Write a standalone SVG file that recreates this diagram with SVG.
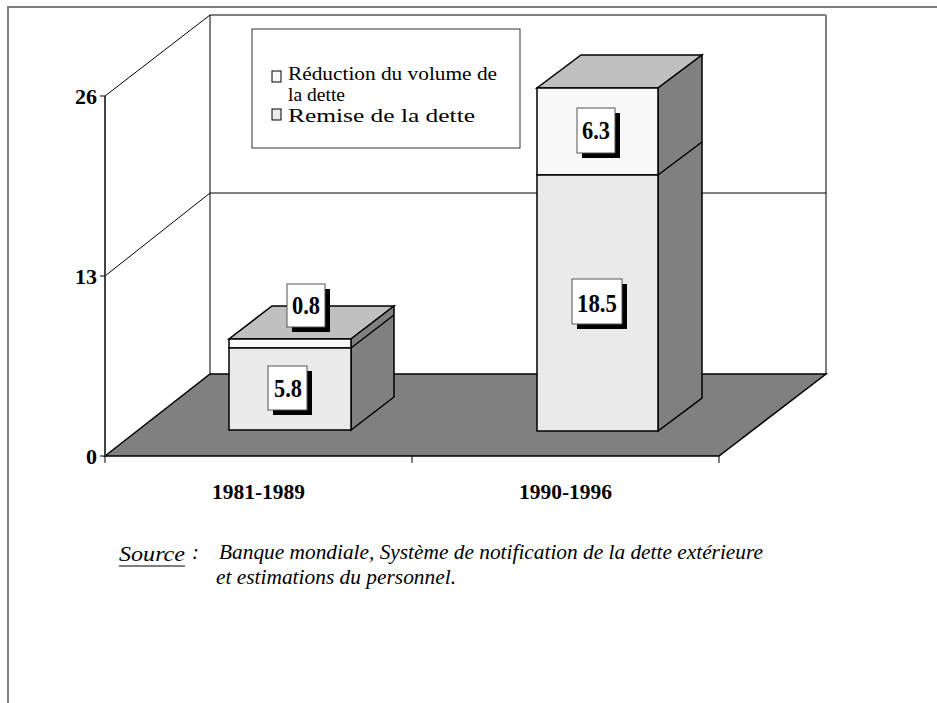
<svg xmlns="http://www.w3.org/2000/svg" width="937" height="703" viewBox="0 0 937 703">
<style>
.ax{stroke:#000;stroke-width:1;fill:none}
.lbl{font-family:"Liberation Serif","Times New Roman",serif;font-weight:bold;font-size:22px;fill:#000}
.dl{font-family:"Liberation Serif","Times New Roman",serif;font-weight:bold;font-size:25px;fill:#000}
.leg{font-family:"Liberation Serif","Times New Roman",serif;font-size:18px;fill:#000}
.src{font-family:"Liberation Serif","Times New Roman",serif;font-style:italic;font-size:21px;fill:#000}
.top{fill:#C0C0C0;stroke:#000;stroke-width:1.5}
.side{fill:#808080;stroke:#000;stroke-width:1.5}
.f1{fill:#EAEAEA;stroke:#000;stroke-width:1.5}
.f2{fill:#F8F8F8;stroke:#000;stroke-width:1.5}
.box{fill:#fff;stroke:#555;stroke-width:1}
</style>
<rect width="937" height="703" fill="#fff"/>
<path d="M8,703 V7 H937" fill="none" stroke="#808080" stroke-width="2"/>
<g id="walls">
<path d="M210,374 V15 H826" class="ax"/>
<line x1="826" y1="15" x2="826" y2="374" stroke="#808080" stroke-width="2"/>
<line x1="105" y1="96" x2="210" y2="15" class="ax"/>
<line x1="105" y1="276" x2="210" y2="193" class="ax"/>
<line x1="210" y1="193" x2="826" y2="193" class="ax"/>
<polygon points="105,456 210,374 826,374 719,456" fill="#808080" stroke="#000" stroke-width="1.5"/>
<line x1="105" y1="96" x2="105" y2="456" stroke="#444" stroke-width="2"/>
<path d="M100,96 H105 M100,276 H105 M100,456 H105 M105,456 V463 M412,456 V463 M719,456 V463" class="ax"/>
</g>
<g id="axis-labels">
<text class="lbl" x="97" y="104" text-anchor="end">26</text>
<text class="lbl" x="97" y="284" text-anchor="end">13</text>
<text class="lbl" x="97" y="464" text-anchor="end">0</text>
<text class="lbl" x="212" y="499" textLength="93" lengthAdjust="spacingAndGlyphs">1981-1989</text>
<text class="lbl" x="519" y="499" textLength="93" lengthAdjust="spacingAndGlyphs">1990-1996</text>
</g>
<g id="bar1">
<polygon class="top" points="229,339 351,339 394,306 272,306"/>
<polygon class="side" points="351,339 394,306 394,397 351,430"/>
<line x1="351" y1="348" x2="394" y2="315" stroke="#000" stroke-width="1.5"/>
<rect class="f2" x="229" y="339" width="122" height="9"/>
<rect class="f1" x="229" y="348" width="122" height="82"/>
</g>
<g id="bar2">
<polygon class="top" points="537,88 658,88 702,55 581,55"/>
<polygon class="side" points="658,88 702,55 702,398 658,431"/>
<line x1="658" y1="175" x2="702" y2="142" stroke="#000" stroke-width="1.5"/>
<rect class="f2" x="537" y="88" width="121" height="87"/>
<rect class="f1" x="537" y="175" width="121" height="256"/>
</g>
<g id="label-0.8">
<rect x="292" y="289" width="38" height="43" fill="#000"/>
<rect class="box" x="287" y="284" width="38" height="43"/>
<text class="dl" x="292" y="314" textLength="28" lengthAdjust="spacingAndGlyphs">0.8</text>
</g>
<g id="label-5.8">
<rect x="273" y="371" width="39" height="44" fill="#000"/>
<rect class="box" x="268" y="366" width="39" height="44"/>
<text class="dl" x="274" y="397" textLength="28" lengthAdjust="spacingAndGlyphs">5.8</text>
</g>
<g id="label-6.3">
<rect x="582" y="113" width="38" height="45" fill="#000"/>
<rect class="box" x="577" y="108" width="38" height="45"/>
<text class="dl" x="582" y="139" textLength="28" lengthAdjust="spacingAndGlyphs">6.3</text>
</g>
<g id="label-18.5">
<rect x="577" y="284" width="50" height="45" fill="#000"/>
<rect class="box" x="572" y="279" width="50" height="45"/>
<text class="dl" x="577" y="312" textLength="40" lengthAdjust="spacingAndGlyphs">18.5</text>
</g>
<g id="legend">
<rect x="252" y="29" width="268" height="119" fill="#fff" stroke="#333" stroke-width="1"/>
<rect x="272" y="71" width="9" height="11" fill="#F8F8F8" stroke="#000" stroke-width="1"/>
<text class="leg" x="288" y="80" textLength="209" lengthAdjust="spacingAndGlyphs">Réduction du volume de</text>
<text class="leg" x="288" y="101" textLength="57" lengthAdjust="spacingAndGlyphs">la dette</text>
<rect x="272" y="109" width="9" height="11" fill="#EAEAEA" stroke="#000" stroke-width="1"/>
<text class="leg" x="288" y="122" textLength="187" lengthAdjust="spacingAndGlyphs">Remise de la dette</text>
</g>
<g id="source">
<text class="src" x="119" y="561" textLength="66" lengthAdjust="spacingAndGlyphs">Source</text>
<line x1="119" y1="566" x2="185" y2="566" stroke="#000" stroke-width="1"/>
<text class="src" x="192" y="559">:</text>
<text class="src" x="219" y="559" textLength="544" lengthAdjust="spacingAndGlyphs">Banque mondiale, Système de notification de la dette extérieure</text>
<text class="src" x="216" y="584" textLength="240" lengthAdjust="spacingAndGlyphs">et estimations du personnel.</text>
</g>
</svg>
